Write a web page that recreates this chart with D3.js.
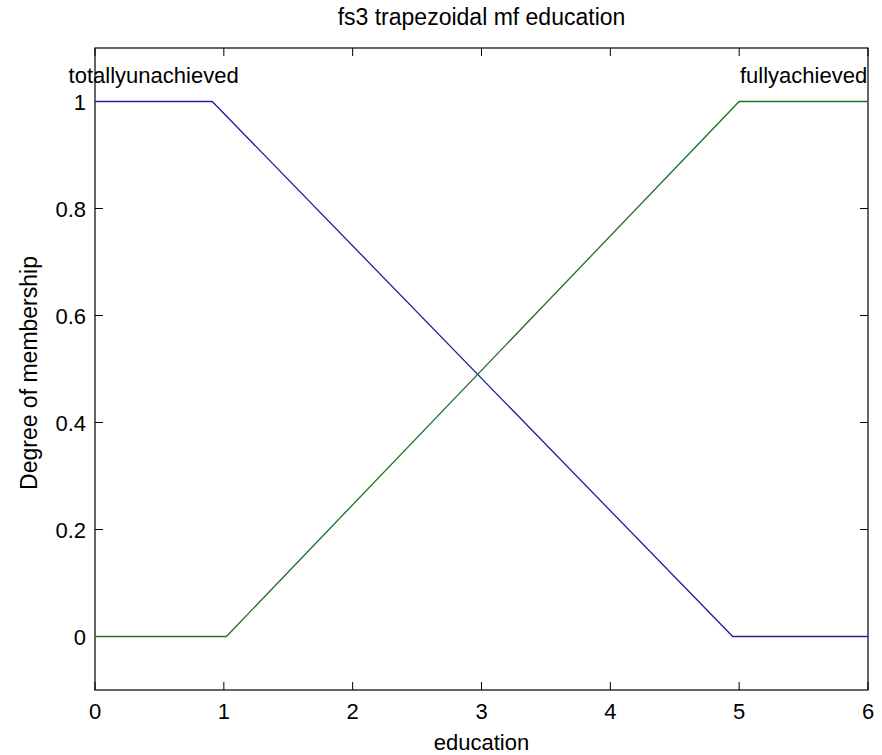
<!DOCTYPE html>
<html>
<head>
<meta charset="utf-8">
<script src="https://cdn.jsdelivr.net/npm/d3@7"></script>
<style>
  body { margin: 0; background: #fff; }
  text { font-family: "Liberation Sans", Arial, sans-serif; fill: #000; }
</style>
</head>
<body>
<div id="chart"></div>
<script>
// membership functions (trapezoid break points)
const mfNames = ["totallyunachieved", "fullyachieved"];
const mfColors = ["#2020a0", "#207020"];
const mfPoints = [
    [[0, 1], [0.91, 1], [4.95, 0], [6, 0]],
    [[0, 0], [1.02, 0], [5.0, 1], [6, 1]]
];
const xTicks = [0, 1, 2, 3, 4, 5, 6];
const yTicks = [0, 0.2, 0.4, 0.6, 0.8, 1];

const width = 882;
const height = 755;
const margin = {top: 48, right: 14, bottom: 65, left: 95};

const svg = d3.select("#chart").append("svg")
    .attr("width", width)
    .attr("height", height);

const x = d3.scaleLinear().domain([0, 6]).range([margin.left, width - margin.right]);
const y = d3.scaleLinear().domain([-0.1, 1.1]).range([height - margin.bottom, margin.top]);

// box
svg.append("rect")
    .attr("x", x(0)).attr("y", y(1.1))
    .attr("width", x(6) - x(0)).attr("height", y(-0.1) - y(1.1))
    .attr("fill", "none").attr("stroke", "#000").attr("stroke-width", 1.2);

const tickLen = 8;
// x ticks bottom + top
xTicks.forEach(t => {
    svg.append("line").attr("x1", x(t)).attr("x2", x(t))
        .attr("y1", y(-0.1)).attr("y2", y(-0.1) - tickLen).attr("stroke", "#000");
    svg.append("line").attr("x1", x(t)).attr("x2", x(t))
        .attr("y1", y(1.1)).attr("y2", y(1.1) + tickLen).attr("stroke", "#000");
    svg.append("text")
        .attr("x", x(t)).attr("y", y(-0.1) + 29)
        .attr("text-anchor", "middle")
        .style("font-size", "22px")
        .text(t);
});

// y ticks left + right
yTicks.forEach(t => {
    svg.append("line").attr("x1", x(0)).attr("x2", x(0) + tickLen)
        .attr("y1", y(t)).attr("y2", y(t)).attr("stroke", "#000");
    svg.append("line").attr("x1", x(6)).attr("x2", x(6) - tickLen)
        .attr("y1", y(t)).attr("y2", y(t)).attr("stroke", "#000");
    svg.append("text")
        .attr("x", x(0) - 9).attr("y", y(t) + 8)
        .attr("text-anchor", "end")
        .style("font-size", "22px")
        .text(t);
});

// curves
const line = d3.line().x(d => x(d[0])).y(d => y(d[1]));
mfPoints.forEach((pts, i) => {
    svg.append("path")
        .attr("d", line(pts))
        .attr("fill", "none")
        .attr("stroke", mfColors[i])
        .attr("stroke-width", 1.3);

    // label centred over the plateau
    const top = pts.filter(p => p[1] === 1);
    const cx = (top[0][0] + top[top.length - 1][0]) / 2;
    svg.append("text")
        .attr("x", x(cx)).attr("y", y(1) - 19)
        .attr("text-anchor", "middle")
        .style("font-size", "22px")
        .text(mfNames[i]);
});

// title and axis labels
svg.append("text")
    .attr("x", (x(0) + x(6)) / 2).attr("y", 25)
    .attr("text-anchor", "middle")
    .style("font-size", "23px")
    .text("fs3 trapezoidal mf education");

svg.append("text")
    .attr("x", (x(0) + x(6)) / 2).attr("y", 750)
    .attr("text-anchor", "middle")
    .style("font-size", "22px")
    .text("education");

svg.append("text")
    .attr("transform", `translate(37, ${(y(-0.1) + y(1.1)) / 2 + 4}) rotate(-90)`)
    .attr("text-anchor", "middle")
    .style("font-size", "23px")
    .text("Degree of membership");
</script>
</body>
</html>
